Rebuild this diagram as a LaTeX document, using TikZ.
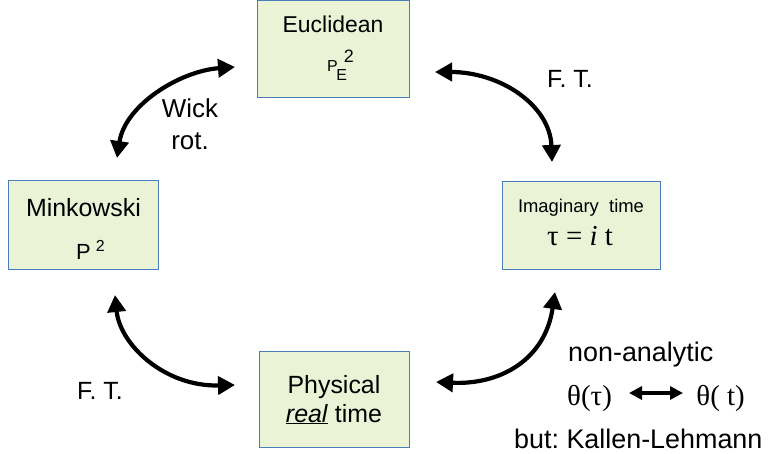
\documentclass[tikz,border=0pt]{standalone}
\usepackage{fontspec}
\setmainfont{Liberation Sans}
\newfontfamily\serif{Liberation Serif}
\usetikzlibrary{arrows.meta}
\definecolor{boxfill}{RGB}{235,243,215}
\definecolor{boxline}{RGB}{74,126,187}
\tikzset{
  box/.style={draw=boxline, line width=1bp, fill=boxfill, inner sep=0pt, minimum width=#1},
  txt/.style={inner sep=0pt, anchor=base},
  txtw/.style={inner sep=0pt, anchor=base west},
  bigarrow/.style={line width=4.2bp, arrows={Triangle[length=17bp,width=18bp]-Triangle[length=17bp,width=18bp]}},
  smallarrow/.style={line width=3.2bp, arrows={Triangle[length=13bp,width=13bp]-Triangle[length=13bp,width=13bp]}}
}
\begin{document}
\frenchspacing
\begin{tikzpicture}[x=1bp,y=-1bp]
\useasboundingbox (0,0) rectangle (772,454);
% boxes
\node[box=152bp, minimum height=97bp] (euc) at (333,49.5) {};
\node[box=149bp, minimum height=89bp] (min) at (83.5,225.5) {};
\node[box=158bp, minimum height=88bp] (ima) at (581,226) {};
\node[box=150bp, minimum height=95bp] (phy) at (334,399.5) {};
% box texts
\node[txt, font=\fontsize{23}{27}\selectfont] (eucA) at (333,33) {Euclidean};
\node[txtw, font=\fontsize{16}{18}\selectfont] (eucB) at (327,72) {P\kern-1.5bp\rlap{\raisebox{-9bp}{E}}\kern7.5bp\raisebox{9bp}{\fontsize{18}{20}\selectfont 2}};
\node[txt, font=\fontsize{25}{29}\selectfont] (minA) at (83.5,217) {Minkowski};
\node[txtw, font=\fontsize{22}{26}\selectfont] (minB) at (76,260) {P\kern5bp\raisebox{8bp}{\fontsize{16}{18}\selectfont 2}};
\node[txt, font=\fontsize{18.5}{22}\selectfont] (imaA) at (581,213) {Imaginary\ \ time};
\node[txt, font=\serif\fontsize{29}{33}\selectfont] (imaB) at (580,246) {τ = \textit{i} t};
\node[txt, font=\fontsize{25}{29}\selectfont] (phyA) at (334,393) {Physical};
\node[txt, font=\fontsize{25}{29}\selectfont] (phyB) at (334,422) {\underline{\textit{real}} time};
% labels
\node[txt, font=\fontsize{26}{30}\selectfont] (wick) at (190,118) {Wick};
\node[txt, font=\fontsize{26}{30}\selectfont] (rot) at (190,150) {rot.};
\node[txtw, font=\fontsize{25}{29}\selectfont] (ft1) at (547,88) {F. T.};
\node[txtw, font=\fontsize{25}{29}\selectfont] (ft2) at (77,399) {F. T.};
\node[txtw, font=\fontsize{27}{32}\selectfont] (nona) at (568,362) {non-analytic};
\node[txtw, font=\serif\fontsize{29}{33}\selectfont] (thl) at (567,405) {θ(τ)};
\node[anchor=base east, inner sep=0pt, font=\serif\fontsize{29}{33}\selectfont] (thr) at (745,405) {θ( t)};
\node[txtw, font=\fontsize{27}{32}\selectfont] (kl) at (514,448) {but: Kallen-Lehmann};
% arrow end coordinates
\coordinate (a1) at (235,67);
\coordinate (b1) at (117,158);
\coordinate (a2) at (435,72);
\coordinate (b2) at (552,162);
\coordinate (a3) at (115,295);
\coordinate (b3) at (235,385);
\coordinate (a4) at (436,382);
\coordinate (b4) at (555,292);
\coordinate (ta) at (629,393);
\coordinate (tb) at (683,393);
% arrows
\draw[bigarrow] (a1) .. controls (180,71) and (125,105) .. (b1);
\draw[bigarrow] (a2) .. controls (500,72) and (550,105) .. (b2);
\draw[bigarrow] (a3) .. controls (120,345) and (165,387) .. (b3);
\draw[bigarrow] (a4) .. controls (500,385) and (545,360) .. (b4);
\draw[smallarrow] (ta) -- (tb);
\end{tikzpicture}
\end{document}
